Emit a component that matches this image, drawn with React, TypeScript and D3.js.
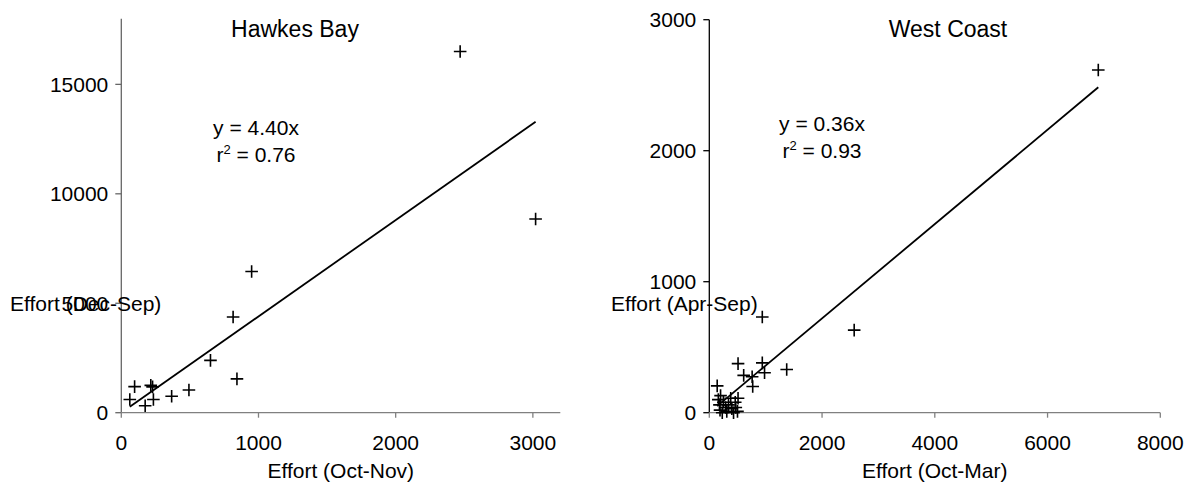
import React from "react";
import * as d3 from "d3";

// Hawkes Bay: Effort (Oct-Nov) vs Effort (Dec-Sep)
const hbX = [2470, 3020, 950, 815, 650, 843, 493, 367, 215, 228, 97, 62, 234, 174];
const hbY = [16500, 8850, 6450, 4370, 2390, 1545, 1040, 750, 1250, 1180, 1190, 600, 600, 320];
const hbSlope = 4.4;
const hbXTicks = [0, 1000, 2000, 3000];
const hbYTicks = [0, 5000, 10000, 15000];

// West Coast: Effort (Oct-Mar) vs Effort (Apr-Sep)
const wcX = [6900, 2570, 940, 510, 940, 1373, 980, 610, 760, 770, 140,
  160, 180, 190, 230, 250, 290, 310, 340, 380, 400, 430, 460, 470, 510, 500, 200];
const wcY = [2616, 630, 730, 375, 380, 330, 305, 285, 275, 200, 205,
  100, 60, 20, 0, 80, 40, 10, 60, 110, 30, 0, 80, 40, 110, 10, 130];
const wcSlope = 0.36;
const wcXTicks = [0, 2000, 4000, 6000, 8000];
const wcYTicks = [0, 1000, 2000, 3000];

const FONT = "'Liberation Sans', Arial, sans-serif";

type PanelProps = {
  xs: number[]; ys: number[]; slope: number;
  xDomain: [number, number]; yDomain: [number, number];
  xRange: [number, number]; yRange: [number, number];
  xTicks: number[]; yTicks: number[];
  title: string; titleX: number;
  eq: string; r2: string; eqX: number; eqY: number;
  xLabel: string; yLabel: string; yLabelX: number;
  yAxisColor: string; xAxisColor: string;
};

function Panel(p: PanelProps) {
  const x = d3.scaleLinear().domain(p.xDomain).range(p.xRange);
  const y = d3.scaleLinear().domain(p.yDomain).range(p.yRange);
  const ext = d3.extent(p.xs) as [number, number];
  const line = d3.line<number>().x((d) => x(d)).y((d) => y(d * p.slope));
  const x0 = x(0);
  const y0 = y(0);
  const cs = 6.3;
  return (
    <g fontFamily={FONT} fill="#000">
      {/* y axis */}
      <line x1={x0} x2={x0} y1={y0} y2={y(p.yDomain[1])} stroke={p.yAxisColor} strokeWidth={1.3} />
      {p.yTicks.map((t) => (
        <g key={"yt" + t}>
          <line x1={x0 - 6} x2={x0} y1={y(t)} y2={y(t)} stroke={p.yAxisColor} strokeWidth={1.3} />
          <text x={x0 - 13} y={y(t) + 7.5} fontSize={21} textAnchor="end">{t}</text>
        </g>
      ))}
      {/* x axis */}
      <line x1={x0} x2={x(p.xDomain[1])} y1={y0} y2={y0} stroke={p.xAxisColor} strokeWidth={1.3} />
      {p.xTicks.map((t) => (
        <g key={"xt" + t}>
          <line x1={x(t)} x2={x(t)} y1={y0} y2={y0 + 5} stroke={p.xAxisColor} strokeWidth={1.3} />
          <text x={x(t)} y={450} fontSize={21} textAnchor="middle">{t}</text>
        </g>
      ))}
      <text x={(x0 + x(p.xDomain[1])) / 2} y={478} fontSize={21} textAnchor="middle">{p.xLabel}</text>
      <text x={p.yLabelX} y={311} fontSize={21}>{p.yLabel}</text>
      {/* trendline */}
      <path d={line(ext) || ""} fill="none" stroke="#000" strokeWidth={1.8} />
      {/* points */}
      {p.xs.map((vx, i) => {
        const px = x(vx);
        const py = y(p.ys[i]);
        return (
          <path key={"p" + i}
            d={`M${px - cs},${py}H${px + cs}M${px},${py - cs}V${py + cs}`}
            stroke="#000" strokeWidth={1.6} fill="none" />
        );
      })}
      <text x={p.titleX} y={37} fontSize={23} textAnchor="middle">{p.title}</text>
      <text x={p.eqX} y={p.eqY} fontSize={21} textAnchor="middle">{p.eq}</text>
      <text x={p.eqX} y={p.eqY + 27} fontSize={21} textAnchor="middle">
        r<tspan fontSize={13} dy={-8}>2</tspan><tspan dy={8}>{" = " + p.r2}</tspan>
      </text>
    </g>
  );
}

export default function App() {
  return (
    <svg width={1194} height={486} style={{ position: "absolute", left: 0, top: 0, background: "#fff" }}>
      <rect width={1194} height={486} fill="#fff" />
      <Panel xs={hbX} ys={hbY} slope={hbSlope}
        xDomain={[0, 3200]} yDomain={[0, 18000]}
        xRange={[121.3, 560.3]} yRange={[412.7, 18.7]}
        xTicks={hbXTicks} yTicks={hbYTicks}
        title="Hawkes Bay" titleX={295}
        eq="y = 4.40x" r2="0.76" eqX={256} eqY={135}
        xLabel="Effort (Oct-Nov)" yLabel="Effort (Dec-Sep)" yLabelX={10}
        yAxisColor="#666" xAxisColor="#808080" />
      <Panel xs={wcX} ys={wcY} slope={wcSlope}
        xDomain={[0, 8000]} yDomain={[0, 3000]}
        xRange={[709.3, 1160.3]} yRange={[412.7, 19.7]}
        xTicks={wcXTicks} yTicks={wcYTicks}
        title="West Coast" titleX={948}
        eq="y = 0.36x" r2="0.93" eqX={822} eqY={131}
        xLabel="Effort (Oct-Mar)" yLabel="Effort (Apr-Sep)" yLabelX={611}
        yAxisColor="#000" xAxisColor="#808080" />
    </svg>
  );
}
